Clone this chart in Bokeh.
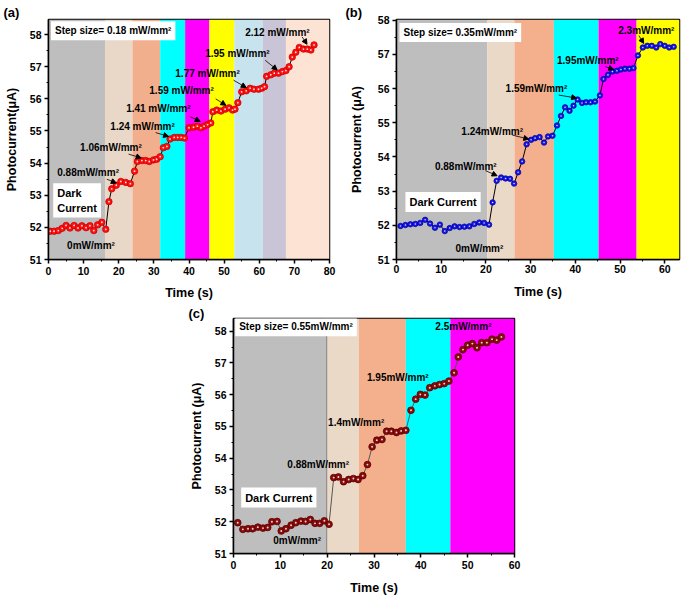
from bokeh.plotting import figure
from bokeh.models import Label, Arrow, NormalHead, Range1d, SingleIntervalTicker, Spacer, Title
from bokeh.layouts import column, row
from bokeh.embed import file_html
from bokeh.resources import INLINE

FONT = "Liberation Sans"

# ---------------- Panel (a) ----------------
time_a = [0.5, 1.6, 2.8, 3.9, 5.0, 6.1, 7.3, 8.4, 9.5, 10.7, 11.8, 12.9, 14.0, 15.2, 16.3,
          17.2, 18.0, 19.3, 20.6, 22.0, 23.3, 24.5, 25.3, 26.6, 27.7, 28.7, 29.9, 30.8, 31.8,
          32.7, 33.7, 34.6, 35.8, 36.8, 37.8, 38.7, 40.0, 41.3, 42.4, 43.4, 44.3, 45.3, 46.2,
          46.8, 47.9, 49.1, 50.3, 51.4, 52.4, 53.1, 53.9, 55.0, 56.3, 57.4, 58.5, 59.8, 60.7,
          61.5, 62.1, 63.3, 64.3, 65.5, 66.6, 67.6, 68.5, 69.4, 70.4, 71.4, 72.6, 73.7, 74.7, 75.6]
current_a = [51.88, 51.88, 51.90, 51.97, 52.06, 51.98, 52.06, 51.98, 52.05, 51.99, 52.05, 51.90,
             52.08, 52.16, 51.94,
             52.80, 53.20, 53.31, 53.43, 53.40, 53.36, 53.75, 54.05, 54.08, 54.08, 54.05, 54.10,
             54.12, 54.20, 54.48, 54.52, 54.75, 54.80, 54.80, 54.80, 54.78, 55.10, 55.12, 55.15,
             55.10, 55.15, 55.20, 55.25, 55.60, 55.65, 55.62, 55.68, 55.72, 55.65, 55.68, 55.88,
             56.22, 56.25, 56.33, 56.30, 56.30, 56.33, 56.38, 56.70, 56.75, 56.80, 56.80, 56.85,
             56.88, 57.00, 57.30, 57.45, 57.60, 57.55, 57.55, 57.52, 57.68]
bands_a = [0, 16.1, 23.9, 31.8, 38.9, 45.8, 52.9, 61.0, 67.6, 80]
band_colors_a = ["#BEBEBE", "#E9D7C7", "#F2AF8D", "#00FFFF", "#FF00FF", "#FFFF00",
                 "#C7E4EE", "#C9C5D6", "#FDE3D4"]
ann_text_a = ["0.88mW/mm²", "1.06mW/mm²", "1.24 mW/mm²", "1.41 mW/mm²", "1.59 mW/mm²",
              "1.77 mW/mm²", "1.95 mW/mm²", "2.12 mW/mm²"]
ann_x_a = [2.5, 9.0, 17.6, 22.1, 28.7, 36.1, 44.6, 56.0]
ann_y_a = [53.72, 54.50, 55.15, 55.70, 56.27, 56.80, 57.42, 58.07]
arr_x0_a = [16.6, 22.8, 30.5, 40.4, 47.6, 52.7, 61.7, 72.2]
arr_y0_a = [53.50, 54.28, 54.95, 55.44, 56.00, 56.58, 57.20, 57.93]
arr_x1_a = [19.3, 26.4, 34.2, 43.2, 50.5, 56.3, 65.1, 73.6]
arr_y1_a = [53.38, 54.16, 54.83, 55.30, 55.80, 56.35, 56.90, 57.70]

# ---------------- Panel (b) ----------------
time_b = [0.9, 2.0, 3.1, 4.2, 5.3, 6.4, 7.5, 8.6, 9.7, 10.8, 11.9, 13.0, 14.1, 15.2, 16.3, 17.4,
          18.5, 19.6, 20.7,
          21.5, 22.4, 23.4, 24.4, 25.4, 26.3, 27.2, 28.1, 29.1, 30.1, 31.0, 32.0, 33.0, 33.9,
          34.9, 35.9, 36.8, 37.7, 38.7, 39.6, 40.5, 41.5, 42.4, 43.4, 44.4, 45.5, 46.3, 47.3,
          48.3, 49.3, 50.2, 51.1, 52.1, 53.0, 54.0, 55.1, 56.1, 57.1, 58.1, 59.0, 60.0, 61.0, 62.0]
current_b = [51.98, 52.01, 52.03, 52.04, 52.07, 52.16, 52.05, 51.93, 52.02, 51.83, 51.92, 51.97,
             51.95, 51.96, 51.97, 52.04, 52.08, 52.07, 52.02,
             52.67, 53.30, 53.40, 53.37, 53.36, 53.22, 53.55, 53.87, 54.37, 54.50, 54.55, 54.58,
             54.42, 54.60, 54.62, 54.92, 55.20, 55.45, 55.35, 55.50, 55.68, 55.58, 55.60, 55.60,
             55.62, 55.80, 56.28, 56.40, 56.50, 56.52, 56.56, 56.58, 56.58, 56.60, 56.97, 57.20,
             57.25, 57.25, 57.20, 57.30, 57.25, 57.20, 57.22]
bands_b = [0, 20.3, 26.4, 35.2, 45.2, 53.7, 63.3]
band_colors_b = ["#BEBEBE", "#EBD9C8", "#F4B08C", "#00FFFF", "#FF00FF", "#FFFF00"]
ann_text_b = ["0.88mW/mm²", "1.24mW/mm²", "1.59mW/mm²", "1.95mW/mm²", "2.3mW/mm²"]
ann_x_b = [8.6, 14.5, 24.4, 35.9, 49.6]
ann_y_b = [53.72, 54.75, 56.00, 56.83, 57.71]
arr_x0_b = [19.9, 25.9, 36.3, 46.7, 54.2]
arr_y0_b = [53.60, 54.64, 55.81, 56.64, 57.55]
arr_x1_b = [22.5, 29.6, 40.3, 48.6, 55.3]
arr_y1_b = [53.45, 54.52, 55.72, 56.56, 57.32]

# ---------------- Panel (c) ----------------
time_c = [0.9, 2.0, 3.1, 4.1, 5.2, 6.3, 7.3, 8.2, 9.3, 10.2, 11.2, 12.3, 13.3, 14.4, 15.4, 16.4,
          17.4, 18.4, 19.4, 20.4,
          21.4, 22.4, 23.5, 24.6, 25.6, 26.6, 27.6, 28.6, 29.6, 30.6, 31.7, 32.7, 33.7, 34.8,
          35.8, 36.8, 37.9, 38.9, 39.9, 40.9, 41.9, 43.0, 44.0, 45.0, 46.0, 47.1, 48.0, 49.0,
          50.0, 51.0, 52.0, 53.0, 54.1, 55.2, 56.2, 57.2]
current_c = [51.97, 51.76, 51.78, 51.78, 51.83, 51.80, 51.82, 52.00, 52.01, 51.71, 51.78, 51.89,
             51.97, 52.02, 52.01, 52.07, 51.95, 51.95, 52.03, 51.92,
             53.39, 53.41, 53.26, 53.33, 53.36, 53.33, 53.45, 53.80, 54.36, 54.57, 54.59, 54.85,
             54.85, 54.81, 54.86, 54.88, 55.51, 55.86, 56.01, 55.99, 56.22, 56.28, 56.32, 56.35,
             56.43, 56.69, 57.19, 57.42, 57.56, 57.61, 57.48, 57.64, 57.64, 57.75, 57.72, 57.82]
bands_c = [0, 19.9, 26.8, 36.8, 46.3, 60]
band_colors_c = ["#BEBEBE", "#EBD9C8", "#F4B08C", "#00FFFF", "#FF00FF"]
ann_text_c = ["0.88mW/mm²", "1.4mW/mm²", "1.95mW/mm²", "2.5mW/mm²"]
ann_x_c = [11.5, 20.2, 28.5, 43.1]
ann_y_c = [53.81, 55.13, 56.55, 58.16]


def style_axes(p, ylabel, x_int, x_lab_std, x_std, y_std):
    p.xgrid.visible = False
    p.ygrid.visible = False
    p.outline_line_color = "black"
    p.outline_line_width = 1.5
    p.xaxis.ticker = SingleIntervalTicker(interval=x_int, num_minor_ticks=2)
    p.yaxis.ticker = SingleIntervalTicker(interval=1, num_minor_ticks=2)
    p.xaxis.axis_label = "Time (s)"
    p.yaxis.axis_label = ylabel
    for ax in (p.xaxis, p.yaxis):
        ax.axis_line_width = 1.5
        ax.axis_line_color = "black"
        ax.major_tick_line_width = 1.5
        ax.minor_tick_line_width = 1
        ax.major_tick_out = 4
        ax.major_tick_in = 0
        ax.minor_tick_out = 2
        ax.minor_tick_in = 0
        ax.major_label_text_font = FONT
        ax.major_label_text_font_style = "bold"
        ax.major_label_text_font_size = "10.5px"
        ax.major_label_text_color = "black"
        ax.axis_label_text_font = FONT
        ax.axis_label_text_font_style = "bold"
        ax.axis_label_text_font_size = "12.5px"
        ax.axis_label_text_color = "black"
    p.yaxis.major_label_standoff = 3
    p.yaxis.axis_label_standoff = y_std
    p.xaxis.major_label_standoff = x_lab_std
    p.xaxis.axis_label_standoff = x_std


def panel_title(p, s, offset, standoff):
    p.title = Title(text=s, align="left", offset=offset, standoff=standoff,
                    text_font=FONT, text_font_size="13px", text_font_style="bold",
                    text_color="black")


def add_bands(p, edges, colors, ytop):
    p.quad(left=edges[:-1], right=edges[1:], bottom=51, top=ytop,
           fill_color=colors, line_color=None)


def add_series(p, t, v, fill, edge, line_col, size):
    p.line(t, v, line_color=line_col, line_width=1)
    p.scatter(t, v, size=size, fill_color=fill, line_color=edge, line_width=0.7)
    p.scatter(t, v, size=size * 0.28, fill_color="white", line_color=None, fill_alpha=0.85)


def text(p, x, y, s, size="10px", bg=None, pad=0):
    kw = {}
    if bg is not None:
        kw = dict(background_fill_color=bg, padding=pad)
    p.add_layout(Label(x=x, y=y, text=s, text_font=FONT, text_font_style="bold",
                       text_font_size=size, text_color="black", text_align="left",
                       text_baseline="middle", **kw))


def arrows(p, x0, y0, x1, y1):
    for a, b, c, d in zip(x0, y0, x1, y1):
        p.add_layout(Arrow(end=NormalHead(size=5, fill_color="black", line_color="black"),
                           x_start=a, y_start=b, x_end=c, y_end=d,
                           line_color="black", line_width=0.8))


# ---- figure a
pa = figure(frame_width=281, frame_height=240, output_backend="svg", toolbar_location=None,
            x_range=Range1d(0, 80), y_range=Range1d(51, 58.47),
            min_border_left=48, min_border_right=16, min_border_top=19, min_border_bottom=44)
panel_title(pa, "(a)", -45, 0)
style_axes(pa, "Photocurrent(\u03bcA)", 10, 3, 8, 8)
add_bands(pa, bands_a, band_colors_a, 58.47)
add_series(pa, time_a, current_a, "#FF1010", "#C00000", "black", 6.5)
text(pa, 0.7, 58.12, "Step size= 0.18 mW/mm²", bg="white", pad=4)
text(pa, 1.34, 52.84, "Dark\nCurrent", size="11px", bg="white", pad=4)
text(pa, 5.3, 51.44, "0mW/mm²")
for s, x, y in zip(ann_text_a, ann_x_a, ann_y_a):
    text(pa, x, y, s)
arrows(pa, arr_x0_a, arr_y0_a, arr_x1_a, arr_y1_a)

# ---- figure b
pb = figure(frame_width=283, frame_height=240, output_backend="svg", toolbar_location=None,
            x_range=Range1d(0, 63.3), y_range=Range1d(51, 58.02),
            min_border_left=51, min_border_right=5, min_border_top=16, min_border_bottom=47)
panel_title(pb, "(b)", -51, 0)
style_axes(pb, "Photocurrent (\u03bcA)", 10, 1, 9, 11)
add_bands(pb, bands_b, band_colors_b, 58.02)
add_series(pb, time_b, current_b, "#1515F0", "#00008B", "black", 5.5)
text(pb, 0.67, 57.64, "Step size= 0.35mW/mm²", bg="white", pad=4)
text(pb, 2.0, 52.68, "Dark Current", size="11px", bg="white", pad=4)
text(pb, 13.2, 51.32, "0mW/mm²")
for s, x, y in zip(ann_text_b, ann_x_b, ann_y_b):
    text(pb, x, y, s)
arrows(pb, arr_x0_b, arr_y0_b, arr_x1_b, arr_y1_b)

# ---- figure c
pc = figure(frame_width=281, frame_height=235, output_backend="svg", toolbar_location=None,
            x_range=Range1d(0, 60), y_range=Range1d(51, 58.40),
            min_border_left=50, min_border_right=15, min_border_top=14, min_border_bottom=44)
panel_title(pc, "(c)", -45, -5)
style_axes(pc, "Photocurrent (\u03bcA)", 10, 3, 9, 8)
add_bands(pc, bands_c, band_colors_c, 58.40)
pc.line([bands_c[1], bands_c[1]], [51, 58.40], line_color="#808080", line_width=1)
add_series(pc, time_c, current_c, "#8B0A0A", "#500000", "#555555", 6.8)
text(pc, 0.36, 58.14, "Step size= 0.55mW/mm²", bg="white", pad=4)
text(pc, 1.64, 52.76, "Dark Current", size="11px", bg="white", pad=4)
text(pc, 8.5, 51.42, "0mW/mm²")
for s, x, y in zip(ann_text_c, ann_x_c, ann_y_c):
    text(pc, x, y, s)

layout = column(row(pa, pb), row(Spacer(width=183, height=293), pc))
open("out.html", "w").write(file_html(layout, INLINE))
